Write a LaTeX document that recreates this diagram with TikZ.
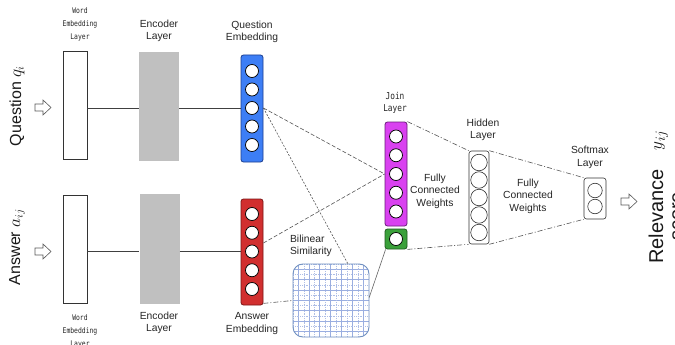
\documentclass[tikz,border=0pt]{standalone}
\usepackage{fontspec}
\setmainfont{Liberation Sans}
\newfontfamily\monof[FakeStretch=0.82]{DejaVu Sans Mono}
\usetikzlibrary{calc}
\definecolor{qblue}{HTML}{3D7EF5}
\definecolor{qblueD}{HTML}{1A3D8F}
\definecolor{ared}{HTML}{D12F2F}
\definecolor{aredD}{HTML}{7A1515}
\definecolor{jmag}{HTML}{D941F0}
\definecolor{jmagD}{HTML}{6A1A7A}
\definecolor{bgreen}{HTML}{3AA03A}
\definecolor{bgreenD}{HTML}{1F5A1F}
\definecolor{encgray}{HTML}{C0C0C0}
\definecolor{gridB}{HTML}{6F8FC0}
\definecolor{gridL}{HTML}{9AAEE0}
\definecolor{lineG}{HTML}{555555}
\begin{document}
\begin{tikzpicture}[x=1pt,y=-1pt,
  lbl/.style={font=\fontsize{10.3}{12.5}\selectfont, align=center, inner sep=0pt, text=black!85},
  mlbl/.style={font=\monof\fontsize{7.8}{13}\selectfont, align=center, inner sep=0pt, text=black!85},
  jlbl/.style={font=\monof\fontsize{9.5}{12}\selectfont, align=center, inner sep=0pt, text=black!85},
  big/.style={font=\fontsize{16}{19}\selectfont, rotate=90, inner sep=0pt, text=black!90},
  wbox/.style={draw=black!80, line width=0.6pt, fill=white, minimum width=24pt, minimum height=108pt, inner sep=0pt},
  encbox/.style={fill=encgray, minimum width=40pt, minimum height=109pt, inner sep=0pt},
  vec/.style={rounded corners=2.5pt, line width=0.8pt, minimum width=22pt, inner sep=0pt},
  cell/.style={circle, draw=black, line width=0.7pt, fill=white, minimum size=13pt, inner sep=0pt},
  hcell/.style={circle, draw=black!80, line width=0.6pt, fill=white, minimum size=16.5pt, inner sep=0pt},
  scell/.style={circle, draw=black!80, line width=0.6pt, fill=white, minimum size=14.5pt, inner sep=0pt},
  conn/.style={draw=black!75, line width=0.6pt},
  dashc/.style={draw=lineG, line width=0.6pt, dash pattern=on 4pt off 2pt},
  dotc/.style={draw=lineG, line width=0.6pt, dash pattern=on 2pt off 1.5pt},
  dashdotc/.style={draw=lineG, line width=0.6pt, dash pattern=on 5pt off 2pt on 1pt off 2pt},
  harrow/.style={draw=black!65, line width=0.6pt, fill=white}
]
\useasboundingbox (0,0) rectangle (675,345);
\fill[white] (0,0) rectangle (675,345);

% ---- left labels
\node[big] (qlab) at (17,106) {Question $q_i$};
\node[big] (alab) at (17,247) {Answer $a_{ij}$};
\draw[harrow] (35,104) -- (43,104) -- (43,100) -- (51,107.5) -- (43,115) -- (43,111) -- (35,111) -- cycle;
\draw[harrow] (35,248) -- (43,248) -- (43,244) -- (51,251.5) -- (43,259) -- (43,255) -- (35,255) -- cycle;

% ---- word embedding and encoder
\node[wbox] (qwe) at (75,105) {};
\node[wbox] (awe) at (75,249) {};
\node[encbox] (qenc) at (159,106.5) {};
\node[encbox, minimum height=110pt] (aenc) at (159.5,249) {};
\node[mlbl] (qwel) at (80,24) {Word\\Embedding\\Layer};
\node[mlbl] (awel) at (80,331) {Word\\Embedding\\Layer};
\node[lbl] (qencl) at (159,31) {Encoder\\Layer};
\node[lbl] (aencl) at (159,323) {Encoder\\Layer};

% ---- question / answer embeddings
\node[vec, draw=qblueD, fill=qblue, minimum height=107pt] (qemb) at (252,108.5) {};
\foreach \k in {1,...,5} \node[cell] (qe\k) at (252,{108+(\k-3)*18.5}) {};
\node[vec, draw=aredD, fill=ared, minimum height=106pt] (aemb) at (252,252) {};
\foreach \k in {1,...,5} \node[cell] (ae\k) at (252,{251.5+(\k-3)*18.75}) {};
\node[lbl] (qembl) at (252,32) {Question\\Embedding};
\node[lbl] (aembl) at (252,323.5) {Answer\\Embedding};

\draw[conn] (qwe.east |- qe3) -- (qenc.west |- qe3);
\draw[conn] (qenc.east |- qe3) -- (qemb.west |- qe3);
\draw[conn] (awe.east |- ae3) -- (aenc.west |- ae3);
\draw[conn] (aenc.east |- ae3) -- (aemb.west |- ae3);

% ---- join layer
\node[vec, draw=jmagD, fill=jmag, minimum height=104pt] (join) at (396,174) {};
\foreach \k in {1,...,5} \node[cell] (j\k) at (396,{174+(\k-3)*18.75}) {};
\node[vec, draw=bgreenD, fill=bgreen, minimum height=20pt] (green) at (396,239) {};
\node[cell] (g1) at (396,239) {};
\node[jlbl] (joinl) at (395,103) {Join\\Layer};

% ---- bilinear similarity grid
\node[rounded corners=10pt, minimum width=76pt, minimum height=73pt, inner sep=0pt] (bil) at (331,300.5) {};
\begin{scope}
  \clip[rounded corners=10pt] (293,264) rectangle (369,337);
  \foreach \i in {0,...,7} {
    \draw[gridL, line width=0.6pt] ({293+\i*10.86+5},264) -- ({293+\i*10.86+5},337);
    \draw[gridL, line width=0.6pt] (293,{264+\i*10.43+5}) -- (369,{264+\i*10.43+5});
    \draw[gridL!80, line width=0.45pt, dash pattern=on 0.8pt off 1pt] ({293+\i*10.86},264) -- ({293+\i*10.86},337);
    \draw[gridL!80, line width=0.45pt, dash pattern=on 0.8pt off 1pt] (293,{264+\i*10.43}) -- (369,{264+\i*10.43});
  }
\end{scope}
\draw[gridB, line width=0.9pt, rounded corners=10pt] (293,264) rectangle (369,337);
\node[lbl, align=left] (bill) at (311,246) {Bilinear\\Similarity};
\coordinate (bt) at (348,264);

% ---- hidden and softmax
\node[vec, draw=black!80, fill=white, minimum width=20pt, minimum height=93pt, line width=0.6pt] (hid) at (479,197.5) {};
\foreach \k in {1,...,5} \node[hcell] (h\k) at (479,{197.5+(\k-3)*17.5}) {};
\node[vec, draw=black!80, fill=white, minimum height=41pt, line width=0.6pt] (soft) at (595,198.5) {};
\node[scell] (s1) at (595,190.5) {};
\node[scell] (s2) at (595,206.5) {};
\node[lbl] (hidl) at (483,130) {Hidden\\Layer};
\node[lbl] (softl) at (590,157.5) {Softmax\\Layer};
\node[lbl] (fc1) at (435,191) {Fully\\Connected\\Weights};
\node[lbl] (fc2) at (528,196) {Fully\\Connected\\Weights};

% ---- connectors into join layer
\draw[dashc] (qemb.east |- qe3) -- (join.west |- j3);
\draw[dotc] (qemb.east |- qe3) -- (bt);
\draw[dashc] ([yshift=9pt]aemb.east) -- (join.west |- j3);
\draw[dashdotc] ([yshift=2pt]aemb.south east) -- (bil.west);
\draw[conn, draw=black!60] ([yshift=3pt]bil.east) -- ([xshift=1pt]green.south west);

% ---- fully connected
\draw[dashdotc] (join.north east) -- (hid.north west);
\draw[dashdotc] (green.south east) -- (hid.south west);
\draw[dashdotc] (hid.north east) -- (soft.north west);
\draw[dashdotc] (hid.south east) -- (soft.south west);

% ---- output
\draw[harrow] (621,198) -- (629,198) -- (629,194) -- (637,201.5) -- (629,209) -- (629,205) -- (621,205) -- cycle;
\node[font=\fontsize{20}{20}\selectfont, rotate=90, align=center, inner sep=0pt, text=black!90] (rel) at (666,216.5) {Relevance\\score};
\node[font=\fontsize{19}{22}\selectfont, rotate=90, inner sep=0pt, text=black!90] (yij) at (661,140) {$y_{ij}$};
\end{tikzpicture}
\end{document}
